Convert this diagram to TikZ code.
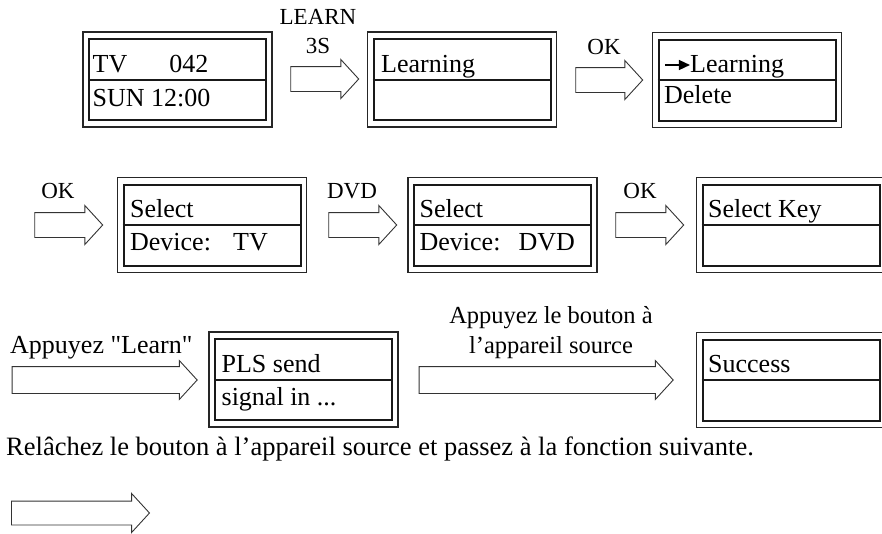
\documentclass[tikz,border=0pt]{standalone}
\usepackage{fontspec}
\setmainfont{Liberation Serif}[Ligatures=TeXOff]
\usetikzlibrary{shapes.arrows,arrows.meta}
\tikzset{
  lcdout/.style={draw=black!85, line width=1.1pt, minimum width=189pt, minimum height=95pt, inner sep=0pt},
  lcdin/.style={draw=black!90, line width=2pt, minimum width=177pt, minimum height=81pt, inner sep=0pt},
  divider/.style={draw=black!90, line width=2pt},
  lcdtext/.style={anchor=base west, inner sep=0pt, font=\fontsize{26}{30}\selectfont},
  lbl/.style={anchor=base, inner sep=0pt, font=\fontsize{23}{26}\selectfont},
  bigl/.style={inner sep=0pt, font=\fontsize{26}{30}\selectfont},
  blockarrow/.style={single arrow, draw=black!80, line width=0.9pt, inner xsep=0pt, inner ysep=12pt, single arrow head extend=7pt, single arrow tip angle=95},
}
\newcommand{\lcd}[3]{%
  \node[lcdout] (#1) at (#2,#3) {};
  \node[lcdin] (#1i) at (#1.center) {};
  \draw[divider] (#1i.west) -- (#1i.east);
}
\begin{document}
\begin{tikzpicture}[x=1pt,y=-1pt]
\useasboundingbox (0,0) rectangle (882,533);
% row 1
\lcd{b1}{177.5}{79.5}
\lcd{b2}{462}{79.5}
\lcd{b3}{747}{80}
\node[lcdtext] (t1a) at ([xshift=10pt,yshift=7.5pt]b1.west) {TV\hspace{42pt}042};
\node[lcdtext] (t1b) at ([xshift=10pt,yshift=-26.5pt]b1.west) {SUN 12:00};
\node[lcdtext] (t2a) at ([xshift=14pt,yshift=7.5pt]b2.west) {Learning};
\coordinate (arrs) at ([xshift=13pt,yshift=15pt]b3.west);
\coordinate (arre) at ([xshift=38pt,yshift=15pt]b3.west);
\draw[line width=1.4pt, -{Triangle[length=11pt,width=10pt]}] (arrs) -- (arre);
\node[lcdtext] (t3a) at ([xshift=38pt,yshift=8pt]b3.west) {Learning};
\node[lcdtext] (t3b) at ([xshift=12pt,yshift=-23pt]b3.west) {Delete};
\node[blockarrow, minimum height=68pt] (a1) at (319,79) {};
\node[lbl] (l1a) at (318,24) {LEARN};
\node[lbl] (l1b) at (318,53) {3S};
\node[blockarrow, minimum height=67pt] (a2) at (603.5,80) {};
\node[lbl] (l2) at (604,54) {OK};
% row 2
\lcd{b4}{212}{225}
\lcd{b5}{502.5}{225}
\lcd{b6}{791}{225}
\node[lcdtext] (t4a) at ([xshift=13pt,yshift=8pt]b4.west) {Select};
\node[lcdtext] (t4b) at ([xshift=13pt,yshift=-25pt]b4.west) {Device:\hspace{13.5pt} TV};
\node[lcdtext] (t5a) at ([xshift=12pt,yshift=8pt]b5.west) {Select};
\node[lcdtext] (t5b) at ([xshift=12pt,yshift=-25pt]b5.west) {Device:\hspace{9.5pt} DVD};
\node[lcdtext] (t6a) at ([xshift=12pt,yshift=8pt]b6.west) {Select Key};
\node[blockarrow, minimum height=68pt] (a3) at (63,225) {};
\node[lbl] (l3) at (58,198) {OK};
\node[blockarrow, minimum height=68pt] (a4) at (357,225) {};
\node[lbl] (l4) at (352,198) {DVD};
\node[blockarrow, minimum height=68pt] (a5) at (644,225) {};
\node[lbl] (l5) at (640,198) {OK};
% row 3
\lcd{b7}{303.5}{379.5}
\lcd{b8}{791}{380}
\node[lcdtext] (t7a) at ([xshift=13pt,yshift=7.5pt]b7.west) {PLS send};
\node[lcdtext] (t7b) at ([xshift=13pt,yshift=-25.5pt]b7.west) {signal in ...};
\node[lcdtext] (t8a) at ([xshift=12pt,yshift=8pt]b8.west) {Success};
\node[blockarrow, minimum height=185pt, inner ysep=13pt, single arrow head extend=6pt] (a6) at (98.5,380) {};
\node[bigl, anchor=base west] (l6) at (10,353) {Appuyez "Learn"};
\node[blockarrow, minimum height=254pt, inner ysep=13pt, single arrow head extend=6pt] (a7) at (540,380) {};
\node[inner sep=0pt, anchor=base, font=\fontsize{24.5}{30}\selectfont] (l7a) at (551,323) {Appuyez le bouton à};
\node[inner sep=0pt, anchor=base, font=\fontsize{24.5}{30}\selectfont] (l7b) at (551,353) {l’appareil source};
% row 4
\node[bigl, anchor=base west, font=\fontsize{26.5}{30}\selectfont] (l8) at (6,455) {Relâchez le bouton à l’appareil source et passez à la fonction suivante.};
\node[blockarrow, minimum height=138pt, inner ysep=11.5pt, single arrow head extend=7.5pt] (a8) at (75,513) {};
\end{tikzpicture}
\end{document}
